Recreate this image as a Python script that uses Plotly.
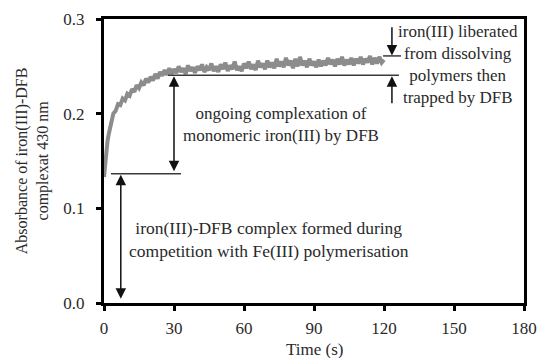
import plotly.graph_objects as go

# ---- data ----
time_s = [0, 0.5, 1, 1.5, 2, 2.5, 3, 3.5] + list(range(4, 121))
absorbance = [
    0.133, 0.150, 0.162, 0.171, 0.178, 0.185, 0.191, 0.195,
    0.200, 0.203, 0.210, 0.209, 0.216, 0.214, 0.221, 0.219, 0.226, 0.223,  # 4-13
    0.230, 0.227, 0.233, 0.230, 0.237, 0.233, 0.239, 0.235, 0.242, 0.237,  # 14-23
    0.244, 0.240, 0.246, 0.241, 0.248, 0.242, 0.247, 0.243, 0.250, 0.244,  # 24-33
    0.248, 0.242, 0.251, 0.245, 0.249, 0.243, 0.250, 0.246, 0.252, 0.244,  # 34-43
    0.249, 0.246, 0.253, 0.245, 0.250, 0.244, 0.252, 0.247, 0.254, 0.245,  # 44-53
    0.251, 0.247, 0.255, 0.246, 0.250, 0.245, 0.253, 0.248, 0.255, 0.247,  # 54-63
    0.252, 0.246, 0.256, 0.249, 0.253, 0.247, 0.256, 0.249, 0.254, 0.248,  # 64-73
    0.258, 0.250, 0.255, 0.249, 0.259, 0.251, 0.256, 0.248, 0.258, 0.250,  # 74-83
    0.260, 0.251, 0.256, 0.249, 0.258, 0.251, 0.255, 0.249, 0.257, 0.250,  # 84-93
    0.256, 0.251, 0.259, 0.252, 0.257, 0.250, 0.258, 0.252, 0.260, 0.251,  # 94-103
    0.257, 0.252, 0.259, 0.251, 0.258, 0.253, 0.260, 0.252, 0.258, 0.254,  # 104-113
    0.261, 0.252, 0.259, 0.253, 0.260, 0.254, 0.257,                       # 114-120
]
x_ticks = [0, 30, 60, 90, 120, 150, 180]
y_ticks = [0.0, 0.1, 0.2, 0.3]

# annotation levels (absorbance)
level_initial = 0.1365
level_monomeric = 0.2405
level_final = 0.261

FONT = "Liberation Serif"
TXT = "#2a2a2a"
LINE = "#3a3a3a"

fig = go.Figure()
fig.add_trace(go.Scatter(x=time_s, y=absorbance, mode="lines",
                         line=dict(color="#8c8c8c", width=4), showlegend=False,
                         hoverinfo="skip"))

# horizontal reference lines
for x0, x1, yv in [(3.0, 33.0, level_initial), (27.4, 126.4, level_monomeric),
                   (119.6, 127.3, level_final)]:
    fig.add_shape(type="line", xref="x", yref="y", x0=x0, x1=x1, y0=yv, y1=yv,
                  line=dict(color=LINE, width=1.5))

def arrow(x, y_tail, y_head, both=False):
    fig.add_annotation(x=x, y=y_head, ax=x, ay=y_tail, xref="x", yref="y",
                       axref="x", ayref="y", text="", showarrow=True,
                       arrowhead=2, arrowsize=1.4, arrowwidth=1.5, arrowcolor="#111",
                       startarrowhead=2, startarrowsize=1.4,
                       arrowside="end+start" if both else "end")

arrow(7.2, 0.003, 0.1354, both=True)
arrow(30.0, 0.1375, 0.2395, both=True)
arrow(123.4, 0.293, 0.2615)
arrow(123.4, 0.2095, 0.2395)

fig.add_annotation(x=75.9, y=0.1884, xref="x", yref="y", showarrow=False,
                   text="ongoing complexation of<br>monomeric iron(III) by DFB",
                   font=dict(family=FONT, size=17, color=TXT), align="center")
fig.add_annotation(x=70.7, y=0.0667, xref="x", yref="y", showarrow=False,
                   text="iron(III)-DFB complex formed during<br>competition with Fe(III) polymerisation",
                   font=dict(family=FONT, size=17.5, color=TXT), align="center")
fig.add_annotation(x=151.9, y=0.2519, xref="x", yref="y", showarrow=False,
                   text="iron(III) liberated<br>from dissolving<br>polymers then<br>trapped by DFB",
                   font=dict(family=FONT, size=17, color=TXT), align="center")

# axis titles
fig.add_annotation(x=-0.171, y=0.5, xref="paper", yref="paper", showarrow=False,
                   xanchor="center", yanchor="middle",
                   text="Absorbance of iron(III)-DFB<br>complexat 430 nm", textangle=-90,
                   font=dict(family=FONT, size=16, color=TXT), align="center")
fig.add_annotation(x=0.5, y=-0.162, xref="paper", yref="paper", showarrow=False,
                   xanchor="center", yanchor="middle",
                   text="Time (s)", font=dict(family=FONT, size=17, color=TXT))

axis_common = dict(showgrid=False, zeroline=False, showline=True, linecolor="black",
                   linewidth=3, mirror=True, ticks="outside", ticklen=5, tickwidth=3,
                   tickcolor="black", automargin=False,
                   tickfont=dict(family=FONT, size=17, color=TXT))
fig.update_xaxes(range=[0, 180], tickvals=x_ticks, ticktext=[str(v) for v in x_ticks],
                 ticklabelstandoff=3, **axis_common)
fig.update_yaxes(range=[0, 0.3], tickvals=y_ticks, ticktext=[f"{v:.1f}" for v in y_ticks],
                 ticklabelstandoff=8, **axis_common)

fig.update_layout(width=538, height=358, margin=dict(l=104, r=14, t=19, b=55),
                  plot_bgcolor="white", paper_bgcolor="white", showlegend=False)

fig.write_html("out.html", config={"displayModeBar": False},
               post_script="document.body.style.margin='0';"
                           "document.body.style.overflow='hidden';")
